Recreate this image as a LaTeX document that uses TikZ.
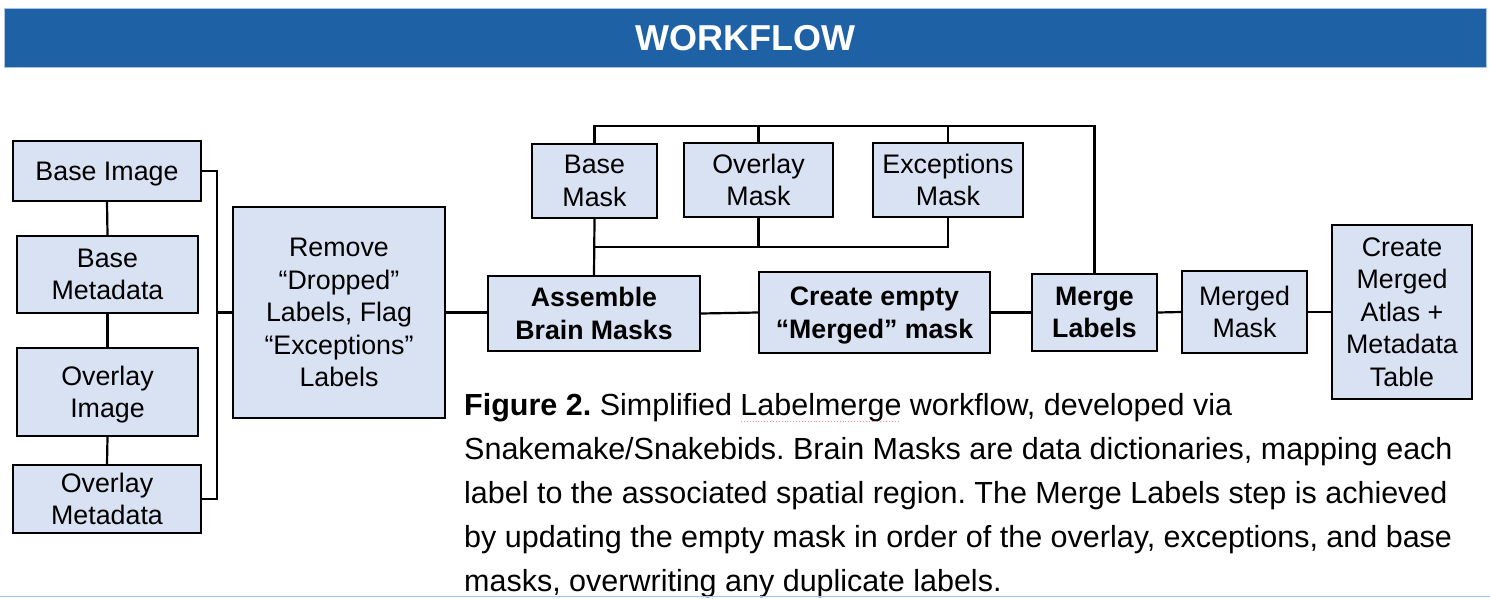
\documentclass[tikz,border=0pt]{standalone}
\usepackage{fontspec}
\setmainfont{Liberation Sans}
\frenchspacing
\definecolor{hdr}{HTML}{1E61A5}
\definecolor{hdredge}{HTML}{A9C4E2}
\definecolor{boxfill}{HTML}{D9E2F3}
\definecolor{rulecol}{HTML}{A3C6E8}
\tikzset{
  box/.style={draw=black, fill=boxfill, line width=2.2pt, inner sep=0pt, align=center,
              text depth=0pt, font=\fontsize{26.8}{32.5}\selectfont},
  bbox/.style={box, font=\fontsize{26.7}{32.5}\selectfont\bfseries},
  link/.style={line width=2.2pt, draw=black, line join=miter},
  capline/.style={anchor=base west, inner sep=0pt, font=\fontsize{30.5}{44}\selectfont},
}
\begin{document}
\begin{tikzpicture}[x=1pt,y=-1pt]
\useasboundingbox (0,0) rectangle (1490,599);
% header band
\node[fill=hdr, draw=hdredge, line width=1pt, minimum width=1482, minimum height=59,
      inner sep=0pt, anchor=north west] (band) at (4,8) {};
\node[text=white, inner sep=0pt, font=\fontsize{36}{36}\selectfont\bfseries] (title) at (745,38) {WORKFLOW};

% left column
\node[box, minimum width=188, minimum height=60] (bimg)  at (107,171)   {Base Image};
\node[box, minimum width=181, minimum height=77] (bmeta) at (107.5,274.5) {Base\\Metadata};
\node[box, minimum width=181, minimum height=88] (oimg)  at (107.5,392) {Overlay\\Image};
\node[box, minimum width=188, minimum height=68] (ometa) at (107,499)   {Overlay\\Metadata};
\node[box, minimum width=212, minimum height=211] (remove) at (339,312.5)
      {Remove\\“Dropped”\\Labels, Flag\\“Exceptions”\\Labels};

% masks
\node[box, minimum width=125, minimum height=74] (bmask) at (594.5,181) {Base\\Mask};
\node[box, minimum width=149, minimum height=74] (omask) at (758.5,180) {Overlay\\Mask};
\node[box, minimum width=150, minimum height=74] (emask) at (948,180)   {Exceptions\\Mask};

% main row
\node[bbox, minimum width=212, minimum height=75] (assemble) at (594,313.5) {Assemble\\Brain Masks};
\node[bbox, minimum width=231, minimum height=81] (create)   at (874.5,312.5) {Create empty\\“Merged” mask};
\node[bbox, minimum width=125, minimum height=77] (merge)    at (1094.5,312.5) {Merge\\Labels};
\node[box,  minimum width=125, minimum height=82] (mmask)    at (1244.5,312) {Merged\\Mask};
\node[box,  minimum width=140, minimum height=174] (atlas)   at (1402,312) {Create\\Merged\\Atlas +\\Metadata\\Table};

% coordinates for junctions
\coordinate (jL) at (217,312.5);
\coordinate (topY) at (0,126);
\coordinate (lowY) at (0,247);

% left column links
\draw[link] (bimg.south) -- (bmeta.north);
\draw[link] (bmeta.south) -- (oimg.north);
\draw[link] (oimg.south) -- (ometa.north);
\draw[link] (bimg.east) -| (jL) |- (ometa.east);
\draw[link] (jL) -- (remove.west);

% main row links
\draw[link] (remove.east) -- (remove.east -| assemble.west);
\draw[link] (assemble.east) -- (create.west);
\draw[link] (create.east) -- (merge.west);
\draw[link] (merge.east) -- (mmask.west);
\draw[link] (mmask.east) -- (atlas.west);

% mask links
\draw[link] (bmask.north) -- (bmask.north |- topY) -- (merge.north |- topY) -- (merge.north);
\draw[link] (omask.north) -- (omask.north |- topY);
\draw[link] (emask.north) -- (emask.north |- topY);
\draw[link] (bmask.south) -- (assemble.north);
\draw[link] (bmask.south |- lowY) -| (emask.south);
\draw[link] (omask.south) -- (omask.south |- lowY);

% caption
\node[capline] (cap1) at (464,415) {{\bfseries Figure 2.} Simplified Labelmerge workflow, developed via};
\node[capline] (cap2) at (464,459) {Snakemake/Snakebids. Brain Masks are data dictionaries, mapping each};
\node[capline] (cap3) at (464,503) {label to the associated spatial region. The Merge Labels step is achieved};
\node[capline] (cap4) at (464,547) {by updating the empty mask in order of the overlay, exceptions, and base};
\node[capline] (cap5) at (464,591) {masks, overwriting any duplicate labels.};
\draw[red!45, line width=0.9pt, dotted] (741,421) -- (900,421);

% bottom rule
\draw[rulecol, line width=1.5pt] (0,596.5) -- (1490,596.5);
\end{tikzpicture}
\end{document}
